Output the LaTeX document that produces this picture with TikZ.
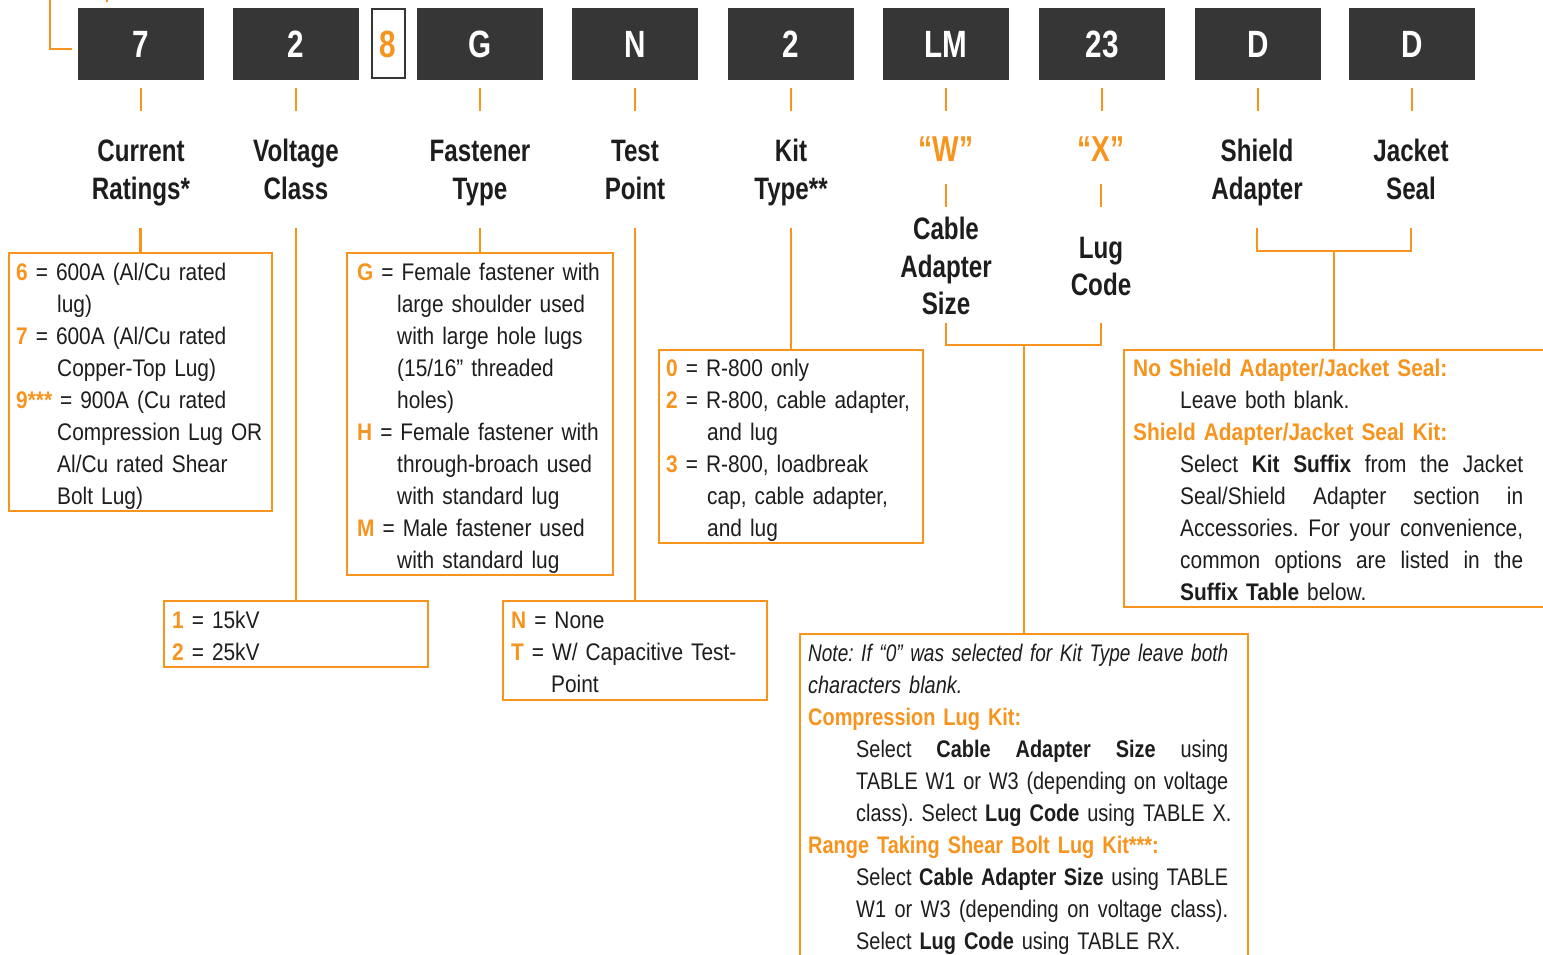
\documentclass[tikz,border=0pt]{standalone}
\usepackage{fontspec}
\setmainfont{Liberation Sans}
\newfontfamily\bodyfont[FakeStretch=0.87]{Liberation Sans}
\newfontfamily\notefont[FakeStretch=0.83]{Liberation Sans}
\newfontfamily\headfont[FakeStretch=0.78]{Liberation Sans}
\usepackage{graphicx}
\definecolor{orng}{RGB}{247,148,30}
\definecolor{darkbox}{RGB}{54,54,54}
\definecolor{ink}{RGB}{30,28,28}
\newcommand{\ob}[1]{{\color{orng}\bfseries #1}}
\newcommand{\ind}[1]{\hspace*{#1pt}}
\newcommand{\jline}[2]{{\spaceskip=\fontdimen2\font plus 20\fontdimen2\font minus \fontdimen4\font\relax\hbox to #1{#2}}}
\begin{document}
\begin{tikzpicture}[x=1pt,y=-1pt,
  oline/.style={draw=orng, line width=2.5pt},
  codebox/.style={fill=darkbox, minimum width=126pt, minimum height=72pt, inner sep=0pt, text=white, font=\headfont\bfseries\fontsize{38}{40}\selectfont},
  obox/.style={draw=orng, line width=2.5pt, inner sep=0pt},
  head/.style={font=\headfont\bfseries\fontsize{31}{38}\selectfont, text=ink, align=center, text width=200pt, anchor=base, inner sep=0pt},
  qhead/.style={font=\headfont\bfseries\fontsize{36}{38}\selectfont, text=orng, align=center, text width=200pt, anchor=base, inner sep=0pt},
  body/.style={font=\bodyfont\fontsize{24}{32}\selectfont, text=ink, text width=460pt, anchor=base west, inner sep=0pt,
    execute at begin node={\raggedright\frenchspacing}},
]
\useasboundingbox (0,0) rectangle (1543,955);

% level coordinates
\coordinate (L88) at (0,88);
\coordinate (L111) at (0,111);
\coordinate (L184) at (0,184);
\coordinate (L207) at (0,207);
\coordinate (L228) at (0,228);
\coordinate (L251) at (0,251);
\coordinate (L323) at (0,323);
\coordinate (L345) at (0,345);

% top-left corner marks
\draw[oline] (50,-2) -- (50,49) -- (72,49);
\draw[oline] (107,-2) -- (107,2);

% code boxes
\node[codebox] (b1) at (141,44) {7};
\node[codebox] (b2) at (296,44) {2};
\node[draw=darkbox, line width=2pt, fill=white, minimum width=33pt, minimum height=69pt, inner sep=0pt, text=orng, font=\headfont\bfseries\fontsize{38}{40}\selectfont] (b3) at (388,44) {8};
\node[codebox] (b4) at (480,44) {G};
\node[codebox] (b5) at (635,44) {N};
\node[codebox] (b6) at (791,44) {2};
\node[codebox] (b7) at (946,44) {LM};
\node[codebox] (b8) at (1102,44) {23};
\node[codebox] (b9) at (1258,44) {D};
\node[codebox] (b10) at (1412,44) {D};

\foreach \b in {b1,b2,b4,b5,b6,b7,b8,b9,b10}
  \draw[oline] (\b |- L88) -- (\b |- L111);

% headings
\node[head] (h1) at (141,162) {Current\\Ratings*};
\node[head] (h2) at (296,162) {Voltage\\Class};
\node[head] (h4) at (480,162) {Fastener\\Type};
\node[head] (h5) at (635,162) {Test\\Point};
\node[head] (h6) at (791,162) {Kit\\Type**};
\node[qhead] (hw) at (946,161) {“W”};
\node[qhead] (hx) at (1101,161) {“X”};
\node[head] (hc) at (946,239) {Cable\\Adapter\\Size};
\node[head] (hl) at (1101,258) {Lug\\Code};
\node[head] (hs) at (1257,162) {Shield\\Adapter};
\node[head] (hj) at (1411,162) {Jacket\\Seal};

\draw[oline] (hw |- L184) -- (hw |- L207);
\draw[oline] (hx |- L184) -- (hx |- L207);

% option boxes
\node[obox, minimum width=263pt, minimum height=258pt] (cur) at (140.5,382) {};
\node[obox, minimum width=266pt, minimum height=322pt] (fas) at (480,414) {};
\node[obox, minimum width=264pt, minimum height=66pt] (vol) at (296,634) {};
\node[obox, minimum width=264pt, minimum height=99pt] (tst) at (635,650.5) {};
\node[obox, minimum width=264pt, minimum height=193pt] (kit) at (791,446.5) {};
\node[obox, minimum width=448pt, minimum height=351pt] (note) at (1024,809.5) {};
\node[obox, minimum width=420pt, minimum height=257pt] (shd) at (1334,478.5) {};

% connectors
\draw[oline] (cur.north) -- (cur.north |- L228);
\draw[oline] (vol.north) -- (vol.north |- L228);
\draw[oline] (fas.north) -- (fas.north |- L228);
\draw[oline] (tst.north) -- (tst.north |- L228);
\draw[oline] (kit.north) -- (kit.north |- L228);
\draw[oline] (hc |- L323) -- (hc |- L345) -- (hl |- L345) -- (hl |- L323);
\draw[oline] (note.north) -- (note.north |- L345);
\draw[oline] (hs |- L228) -- (hs |- L251) -- (hj |- L251) -- (hj |- L228);
\draw[oline] (shd.north) -- (shd.north |- L251);

% texts
\node[body] (curt) at (16,280) {\ob{6} = 600A (Al/Cu rated\\\ind{41}lug)\\\ob{7} = 600A (Al/Cu rated\\\ind{41}Copper-Top Lug)\\\ob{9***} = 900A (Cu rated\\\ind{41}Compression Lug OR\\\ind{41}Al/Cu rated Shear\\\ind{41}Bolt Lug)};

\node[body] (fast) at (357,280) {\ob{G} = Female fastener with\\\ind{40}large shoulder used\\\ind{40}with large hole lugs\\\ind{40}(15/16” threaded\\\ind{40}holes)\\\ob{H} = Female fastener with\\\ind{40}through-broach used\\\ind{40}with standard lug\\\ob{M} = Male fastener used\\\ind{40}with standard lug};

\node[body] (volt) at (172,628) {\ob{1} = 15kV\\\ob{2} = 25kV};

\node[body] (tstt) at (511,628) {\ob{N} = None\\\ob{T} = W/ Capacitive Test-\\\ind{40}Point};

\node[body] (kitt) at (666,376) {\ob{0} = R-800 only\\\ob{2} = R-800, cable adapter,\\\ind{41}and lug\\\ob{3} = R-800, loadbreak\\\ind{41}cap, cable adapter,\\\ind{41}and lug};

\node[body] (shdt) at (1133,376) {\ob{No Shield Adapter/Jacket Seal:}\\\ind{47}Leave both blank.\\\ob{Shield Adapter/Jacket Seal Kit:}\\\ind{47}\jline{343pt}{Select \textbf{Kit Suffix} from the Jacket}\\\ind{47}\jline{343pt}{Seal/Shield Adapter section in}\\\ind{47}\jline{343pt}{Accessories. For your convenience,}\\\ind{47}\jline{343pt}{common options are listed in the}\\\ind{47}\textbf{Suffix Table} below.};

\node[body, font=\notefont\fontsize{24}{32}\selectfont] (notet) at (808,661) {\resizebox{420pt}{\height}{\itshape Note: If “0” was selected for Kit Type leave both}\\{\itshape characters blank.}\\\ob{Compression Lug Kit:}\\\ind{48}\jline{372pt}{Select \textbf{Cable Adapter Size} using}\\\ind{48}\jline{372pt}{TABLE W1 or W3 (depending on voltage}\\\ind{48}class). Select \textbf{Lug Code} using TABLE X.\\\ob{Range Taking Shear Bolt Lug Kit***:}\\\ind{48}\jline{372pt}{Select \textbf{Cable Adapter Size} using TABLE}\\\ind{48}\jline{372pt}{W1 or W3 (depending on voltage class).}\\\ind{48}Select \textbf{Lug Code} using TABLE RX.};
\end{tikzpicture}
\end{document}
